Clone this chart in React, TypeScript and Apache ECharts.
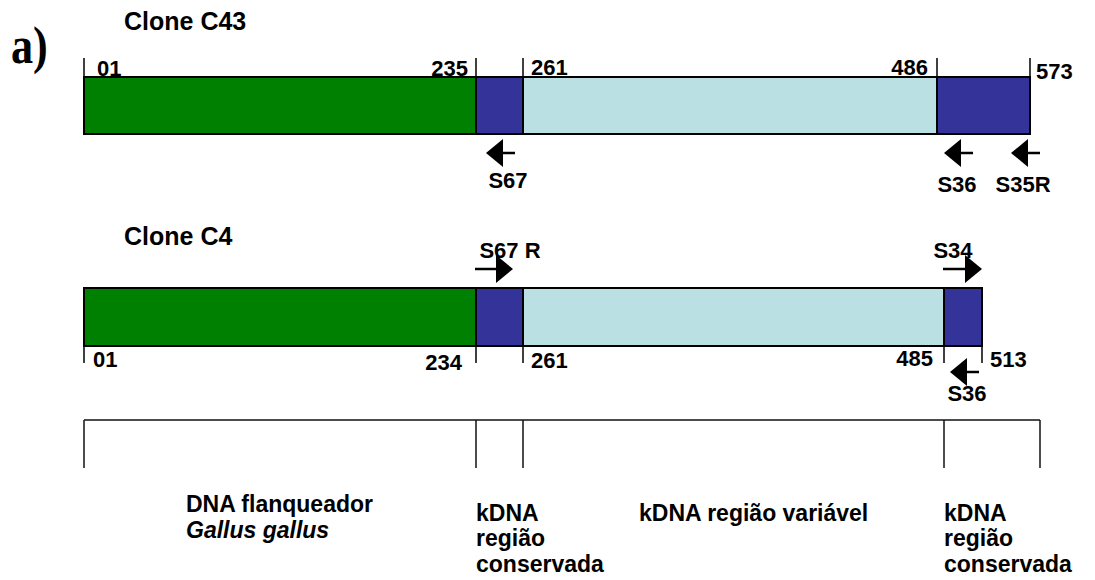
import { useEffect, useRef } from "react";
import * as echarts from "echarts";

// ---------- data ----------
const segmentKinds = ["flank", "conserved", "variable", "conserved"];
const kindColors: Record<string, string> = {
  flank: "#008000",
  conserved: "#333399",
  variable: "#BBE0E3",
};

const cloneNames = ["Clone C43", "Clone C4"];

// schematic positions of the segment boundaries (diagram units, not to scale in bp)
const c43Bounds = [84, 476, 523, 937, 1030];
const c4Bounds = [84, 476, 523, 944, 982];
// base-pair numbers written at each boundary
const c43Numbers = ["01", "235", "261", "486", "573"];
const c4Numbers = ["01", "234", "261", "485", "513"];

// primers: name, tail and tip of the arrow (diagram units)
const c43Primers = ["S67", "S36", "S35R"];
const c43PrimerTails = [515, 973, 1040];
const c43PrimerTips = [486, 944, 1011];

const c4Primers = ["S67 R", "S34", "S36"];
const c4PrimerTails = [475, 943, 979];
const c4PrimerTips = [513, 982, 950];

// region bracket at the bottom
const regionBounds = [84, 476, 523, 944, 1040];
const regionLabels = [
  ["DNA flanqueador", "Gallus gallus"],
  ["kDNA", "região", "conservada"],
  ["kDNA região variável"],
  ["kDNA", "região", "conservada"],
];

// ---------- layout ----------
const W = 1095;
const H = 580;
const FONT = '"Liberation Sans", Arial, Helvetica, sans-serif';

const rows = [
  { top: 77, bottom: 134, tickFrom: 58, tickTo: 77, titleY: 21, numY: [68, 68, 67, 67, 71] },
  { top: 288, bottom: 346, tickFrom: 346, tickTo: 363, titleY: 236, numY: [359, 362, 360, 358, 359] },
];
const numAlign = ["left", "right", "left", "right", "left"];
const numOffsets = [
  [13, -8, 8, -9, 6],
  [9, -14, 8, -11, 8],
];
const c43PrimerLayout = { arrowY: 153, labelY: [180, 184, 184], labelX: [508, 957, 1023] };
const c4PrimerLayout = { arrowY: [269, 269, 372], labelY: [250, 250, 393], labelX: [510, 953, 967] };
const bracket = { y: 420, bottom: 468 };
const regionTextX = [186, 476, 639, 944];
const regionTextY = [[504, 530], [513, 538, 564], [513], [513, 538, 564]];

function txt(x: number, y: number, s: string, size: number, align = "left", italic = false, family = FONT) {
  return {
    type: "text",
    x,
    y,
    style: {
      text: s,
      fill: "#000",
      fontSize: size,
      fontWeight: "bold",
      fontStyle: italic ? "italic" : "normal",
      fontFamily: family,
      align,
      verticalAlign: "middle",
    },
  };
}

function arrow(api: any, tail: number, tip: number, y: number) {
  const dir = tip > tail ? 1 : -1;
  const headLen = 17;
  const half = 14;
  const pTip = api.coord([tip, y]);
  const pBase = api.coord([tip - dir * headLen, y]);
  const pTail = api.coord([tail, y]);
  return [
    {
      type: "line",
      shape: { x1: pTail[0], y1: pTail[1], x2: pBase[0], y2: pBase[1] },
      style: { stroke: "#000", lineWidth: 2.5 },
    },
    {
      type: "polygon",
      shape: {
        points: [
          [pTip[0], pTip[1]],
          [pBase[0], pBase[1] - half],
          [pBase[0], pBase[1] + half],
        ],
      },
      style: { fill: "#000" },
    },
  ];
}

export default function App() {
  const ref = useRef<HTMLDivElement>(null);

  useEffect(() => {
    document.body.style.margin = "0";
    const chart = echarts.init(ref.current!, undefined, { renderer: "svg" });

    const boundsByRow = [c43Bounds, c4Bounds];
    const numbersByRow = [c43Numbers, c4Numbers];

    const segData: number[][] = [];
    boundsByRow.forEach((b, r) => {
      for (let i = 0; i < b.length - 1; i++) segData.push([b[i], b[i + 1], r, i]);
    });

    const tickData: number[][] = [];
    boundsByRow.forEach((b, r) => b.forEach((x, i) => tickData.push([x, r, i])));

    const primerData: number[][] = [];
    c43Primers.forEach((_, i) => primerData.push([c43PrimerTips[i], 0, i]));
    c4Primers.forEach((_, i) => primerData.push([c4PrimerTips[i], 1, i]));

    const regionData: number[][] = regionLabels.map((_, i) => [regionBounds[i], i]);

    const option: any = {
      animation: false,
      backgroundColor: "#fff",
      grid: { left: 0, right: 0, top: 0, bottom: 0 },
      xAxis: { type: "value", min: 0, max: W, show: false },
      yAxis: { type: "value", min: 0, max: H, inverse: true, show: false },
      series: [
        {
          type: "custom",
          name: "segments",
          data: segData,
          encode: { x: [0, 1] },
          renderItem: (params: any, api: any) => {
            const [x0, x1, r, i] = segData[params.dataIndex];
            const row = rows[r];
            const p0 = api.coord([x0, row.top]);
            const p1 = api.coord([x1, row.bottom]);
            return {
              type: "rect",
              shape: { x: p0[0], y: p0[1], width: p1[0] - p0[0], height: p1[1] - p0[1] },
              style: { fill: kindColors[segmentKinds[i]], stroke: "#000", lineWidth: 2 },
            };
          },
        },
        {
          type: "custom",
          name: "positions",
          data: tickData,
          encode: { x: 0 },
          renderItem: (params: any, api: any) => {
            const [x, r, i] = tickData[params.dataIndex];
            const row = rows[r];
            const a = api.coord([x, row.tickFrom]);
            const b = api.coord([x, row.tickTo]);
            const lp = api.coord([x + numOffsets[r][i], row.numY[i]]);
            return {
              type: "group",
              children: [
                {
                  type: "line",
                  shape: { x1: a[0], y1: a[1], x2: b[0], y2: b[1] },
                  style: { stroke: "#000", lineWidth: 1.5 },
                },
                txt(lp[0], lp[1], numbersByRow[r][i], 22, numAlign[i]),
              ],
            };
          },
        },
        {
          type: "custom",
          name: "primers",
          data: primerData,
          encode: { x: 0 },
          renderItem: (params: any, api: any) => {
            const [, r, i] = primerData[params.dataIndex];
            let children: any[] = [];
            if (r === 0) {
              const lp = api.coord([c43PrimerLayout.labelX[i], c43PrimerLayout.labelY[i]]);
              children.push(txt(lp[0], lp[1], c43Primers[i], 22, "center"));
              children = children.concat(arrow(api, c43PrimerTails[i], c43PrimerTips[i], c43PrimerLayout.arrowY));
            } else {
              const lp = api.coord([c4PrimerLayout.labelX[i], c4PrimerLayout.labelY[i]]);
              children.push(txt(lp[0], lp[1], c4Primers[i], 22, "center"));
              children = children.concat(arrow(api, c4PrimerTails[i], c4PrimerTips[i], c4PrimerLayout.arrowY[i]));
            }
            return { type: "group", children };
          },
        },
        {
          type: "custom",
          name: "regions",
          data: regionData,
          encode: { x: 0 },
          renderItem: (params: any, api: any) => {
            const i = params.dataIndex;
            const children: any[] = [];
            const a = api.coord([regionBounds[i], bracket.y]);
            const b = api.coord([regionBounds[i + 1], bracket.y]);
            const bottomL = api.coord([regionBounds[i], bracket.bottom]);
            children.push({
              type: "line",
              shape: { x1: a[0], y1: a[1], x2: b[0], y2: b[1] },
              style: { stroke: "#111", lineWidth: 1.5 },
            });
            children.push({
              type: "line",
              shape: { x1: a[0], y1: a[1], x2: bottomL[0], y2: bottomL[1] },
              style: { stroke: "#111", lineWidth: 1.5 },
            });
            if (i === regionLabels.length - 1) {
              const bottomR = api.coord([regionBounds[i + 1], bracket.bottom]);
              children.push({
                type: "line",
                shape: { x1: b[0], y1: b[1], x2: bottomR[0], y2: bottomR[1] },
                style: { stroke: "#111", lineWidth: 1.5 },
              });
            }
            regionLabels[i].forEach((s, k) => {
              const p = api.coord([regionTextX[i], regionTextY[i][k]]);
              const italic = i === 0 && k === 1;
              children.push(txt(p[0], p[1], s, 23, "left", italic));
            });
            return { type: "group", children };
          },
        },
        {
          type: "custom",
          name: "titles",
          data: cloneNames.map((_, r) => [124, rows[r].titleY]),
          encode: { x: 0, y: 1 },
          renderItem: (params: any, api: any) => {
            const r = params.dataIndex;
            const p = api.coord([124, rows[r].titleY]);
            return txt(p[0], p[1], cloneNames[r], 25, "left");
          },
        },
      ],
      graphic: [
        {
          type: "text",
          x: 11,
          y: 19,
          scaleX: 0.85,
          style: {
            text: "a)",
            fill: "#000",
            fontSize: 52,
            fontWeight: "bold",
            fontFamily: '"Liberation Serif", "DejaVu Serif", serif',
          },
        },
      ],
    };

    chart.setOption(option);
    return () => chart.dispose();
  }, []);

  return <div ref={ref} style={{ width: W, height: H }} />;
}
